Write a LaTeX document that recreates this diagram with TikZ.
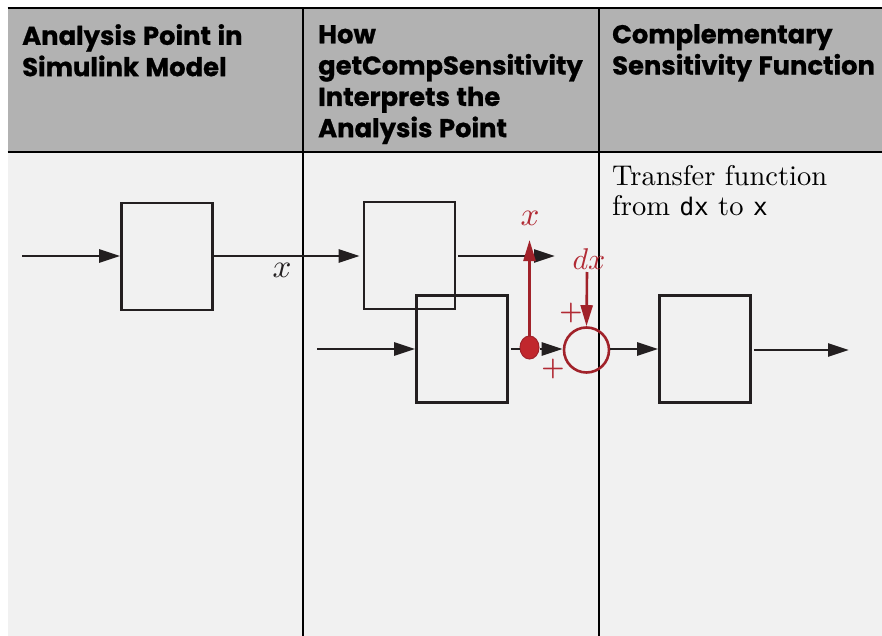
\documentclass[tikz,border=0pt]{standalone}
\usepackage{fontspec}
\usepackage{graphicx}
\usetikzlibrary{arrows.meta,shapes.geometric}
\newfontfamily\hdfont{Poppins}[BoldFeatures={FakeBold=0.8}, WordSpace=1.2]
\newfontfamily\monofont{DejaVu Sans Mono}[Scale=0.85]
\definecolor{hdgray}{HTML}{B2B2B2}
\definecolor{bodygray}{HTML}{F1F1F1}
\definecolor{ink}{HTML}{231F20}
\definecolor{apred}{HTML}{A1222A}
\definecolor{dotred}{HTML}{C1272D}
\definecolor{labred}{HTML}{B12A34}
\tikzset{
 blk/.style={draw=ink, line width=2.6pt, minimum width=91pt, minimum height=107pt, inner sep=0pt},
 arr/.style={draw=ink, line width=2.6pt, -{Triangle[length=21pt,width=13pt]}},
 rarr/.style={draw=apred, line width=2.6pt, -{Triangle[length=21pt,width=12pt]}},
 rule/.style={draw=black, line width=2pt},
 hdtext/.style={anchor=north west, inner sep=0pt, align=left, font=\hdfont\bfseries\fontsize{25.8}{31.3}\selectfont, text=black},
 lab/.style={inner sep=0pt},
}
\begin{document}
\begin{tikzpicture}[x=1pt,y=-1pt]
\useasboundingbox (0,0) rectangle (882,636);
\fill[white] (0,0) rectangle (882,636);
\fill[hdgray] (7.5,8) rectangle (882,152);
\fill[bodygray] (7.5,152) rectangle (882,636);
\draw[rule] (7.5,8.2) -- (882,8.2);
\draw[rule] (7.5,152) -- (882,152);
\draw[rule] (303,8) -- (303,636);
\draw[rule] (598.5,8) -- (598.5,636);

% headers
\node[hdtext] (h1) at (22,24) {Analysis Point in\\Simulink Model};
\node[hdtext] (h2) at (318,25) {How\\getCompSensitivity\\Interprets the\\Analysis Point};
\node[hdtext] (h3) at (612,24) {Complementary\\Sensitivity Function};

% body text
\node[anchor=north west, inner sep=0pt] (desc) at (612,164)
  {\scalebox{2.85}{\fontsize{10}{10.5}\selectfont\begin{tabular}{@{}l@{}}Transfer function\\from {\monofont dx} to {\monofont x}\end{tabular}}};

% blocks
\node[blk] (b1) at (167,256.5) {};
\node[blk] (b2) at (409.5,255.5) {};
\node[blk] (b3) at (462,349) {};
\node[blk] (b4) at (705,349) {};

\coordinate (s1) at (22,256);
\coordinate (s3) at (317,349);
\coordinate (o2) at (555,256);
\coordinate (o4) at (849,350);
\coordinate (xt) at (529.5,240);
\coordinate (dxs) at (587,272);

\node[ellipse, fill=dotred, draw=apred, line width=1pt, minimum width=19pt, minimum height=23pt, inner sep=0pt] (dot) at (529.5,347.5) {};
\node[circle, draw=apred, line width=2.6pt, minimum size=45pt, inner sep=0pt] (sum) at (586.5,350) {};

\draw[arr] (s1) -- (b1.west |- s1);
\draw[arr, shorten >=3pt] (b1.east |- s1) -- (b2.west |- s1);
\draw[arr, shorten <=2pt] (b2.east |- o2) -- (o2);
\draw[arr] (s3) -- (b3.west |- s3);
\draw[draw=ink, line width=2.6pt, shorten <=2pt] (b3.east |- s3) -- (dot.west |- s3);
\draw[arr] (dot.east |- s3) -- (sum.west |- s3);
\draw[rarr] (dot.north) -- (xt);
\draw[rarr] (dxs) -- (sum.north);
\draw[arr] (sum.east |- s3) -- (b4.west |- s3);
\draw[arr, shorten <=2pt] (b4.east |- o4) -- (o4);

% labels
\node[lab, text=ink] (lx) at (282,270) {\scalebox{3.3}{$x$}};
\node[lab, text=labred] (rx) at (530,218) {\scalebox{3.3}{$x$}};
\node[lab, text=labred] (rdx) at (589,259) {\scalebox{3.0}{$dx$}};
\node[lab, text=labred] (p1) at (571,313) {\scalebox{2.6}{\bfseries +}};
\node[lab, text=labred] (p2) at (553,369) {\scalebox{2.6}{\bfseries +}};
\end{tikzpicture}
\end{document}
